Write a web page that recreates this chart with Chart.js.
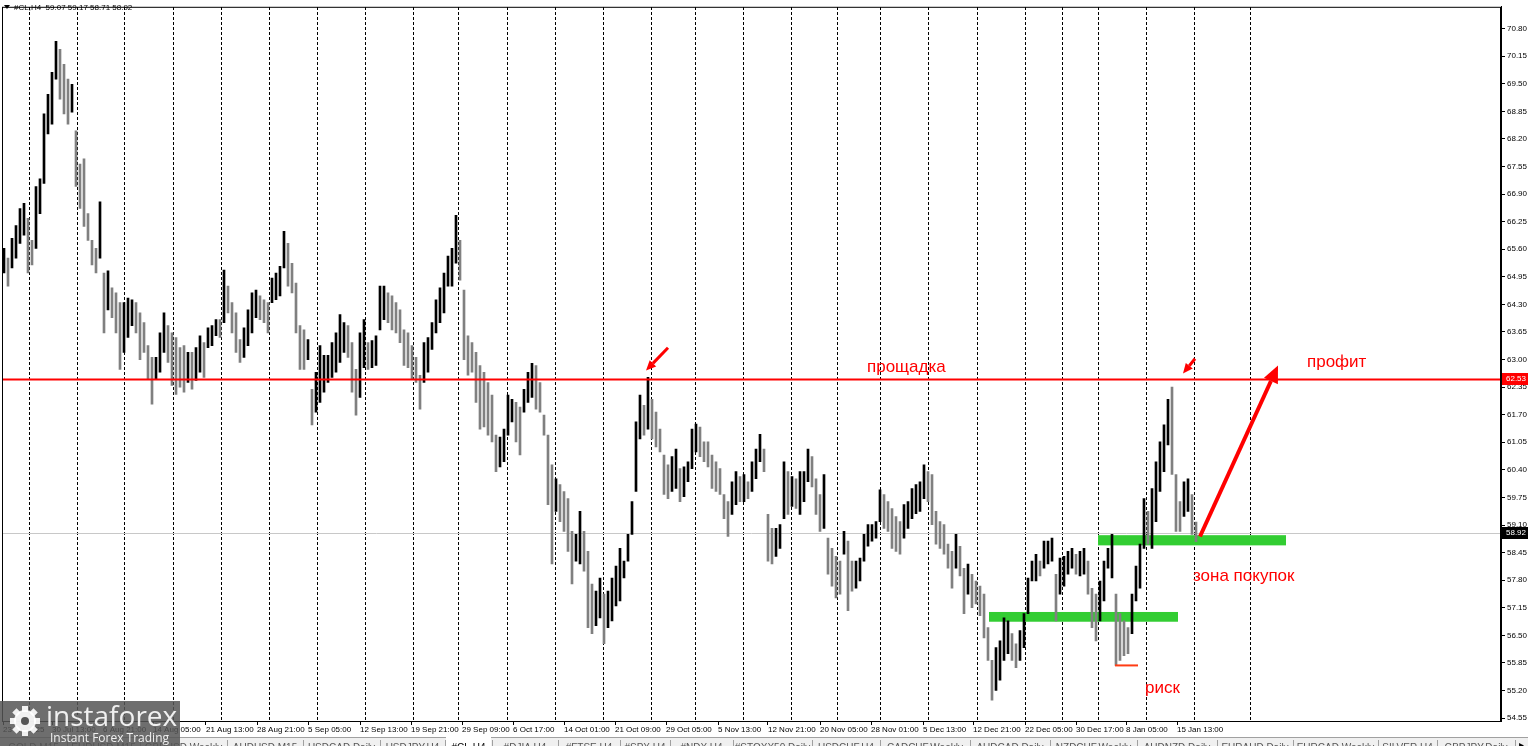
<!DOCTYPE html>
<html>
<head>
<meta charset="utf-8">
<script src="https://cdn.jsdelivr.net/npm/chart.js@4.4.1/dist/chart.umd.min.js"></script>
<style>
  html, body { margin: 0; padding: 0; background: #fff; overflow: hidden; }
  canvas { display: block; }
</style>
</head>
<body>
<canvas id="chart" width="1528" height="746"></canvas>
<script>
// Datos del grafico (#CL, H4) - cada barra = maximo / minimo
const symbolTitle = "#CL,H4  59.07 59.17 58.71 58.92";

const barHigh = [
  65.62,65.39,65.86,66.16,66.56,66.68,66.33,65.81,67.08,67.26,
  68.79,69.25,69.77,70.50,70.31,69.96,69.61,69.49,68.39,67.61,
  67.73,66.44,65.81,65.62,66.72,65.04,65.09,64.69,64.57,64.34,
  64.34,64.45,64.41,64.34,64.10,63.87,63.33,63.05,63.05,63.63,
  64.10,63.80,63.63,63.52,63.28,63.33,63.17,63.17,63.28,63.56,
  63.40,63.75,63.80,63.94,63.94,65.11,64.73,64.34,64.10,63.47,
  63.75,64.17,64.57,64.64,64.50,64.41,64.34,64.92,65.04,65.20,
  66.02,65.74,65.27,64.80,63.80,63.70,63.47,62.30,62.70,63.33,
  63.10,63.10,63.40,63.63,64.06,63.87,63.80,63.40,62.77,63.63,
  63.94,63.40,63.45,63.56,64.73,64.73,64.57,64.50,64.34,64.17,
  63.70,63.63,63.33,63.05,62.63,63.40,63.52,63.87,64.41,64.69,
  65.04,65.44,65.62,66.40,65.81,64.64,63.56,63.40,63.17,62.86,
  62.70,62.46,62.16,61.22,61.17,61.36,62.16,62.06,61.99,61.88,
  62.30,62.70,62.91,62.86,62.46,61.69,61.22,60.52,60.19,60.05,
  59.89,59.72,58.95,58.88,59.42,58.95,58.48,57.71,57.54,57.85,
  57.47,57.54,57.85,58.13,58.55,58.25,58.88,59.65,61.53,62.16,
  61.92,62.58,62.06,61.76,61.36,60.75,60.52,60.71,60.89,60.43,
  60.47,60.59,61.36,61.48,61.41,61.06,61.06,60.75,60.59,60.43,
  59.82,59.65,60.12,60.36,60.24,60.29,60.12,60.59,60.89,61.24,
  60.89,59.35,59.02,59.02,59.11,60.59,60.36,60.24,60.19,60.36,
  60.36,60.89,60.71,60.19,59.82,60.29,58.79,58.55,58.36,58.25,
  58.95,58.72,58.25,58.25,58.32,58.88,59.11,59.11,59.18,59.93,
  59.82,59.65,59.49,59.30,59.18,59.58,59.65,59.96,60.05,60.12,
  60.52,60.36,60.29,59.42,59.18,59.11,58.65,58.48,58.88,58.60,
  58.08,58.18,57.94,57.78,57.66,57.47,56.68,55.91,56.21,56.37,
  56.91,56.84,56.54,56.30,56.61,57.01,57.85,58.25,58.41,58.25,
  58.72,58.72,58.79,57.94,58.32,58.36,58.48,58.55,58.41,58.48,
  58.55,58.25,57.61,57.47,57.78,58.25,58.55,58.88,57.47,57.01,
  56.84,56.68,57.47,58.13,58.65,59.72,59.42,59.96,60.59,61.06,
  61.46,62.06,62.35,60.29,59.65,60.12,60.19,59.82,59.17
];

const barLow = [
  65.04,64.73,65.16,65.39,65.74,65.93,65.04,65.23,65.62,66.44,
  67.15,68.32,68.55,69.61,69.14,68.79,68.55,68.83,67.08,66.56,
  66.14,65.81,65.23,65.04,65.39,63.63,64.17,63.99,63.63,62.77,
  63.17,63.52,63.80,63.63,63.00,63.17,62.53,61.95,62.53,62.70,
  63.17,62.93,62.39,62.18,62.35,62.23,62.46,62.30,62.51,62.70,
  62.58,63.28,63.33,63.56,63.52,63.87,64.10,63.63,63.17,62.93,
  63.05,63.33,63.63,63.99,63.94,63.87,63.63,64.34,64.41,64.50,
  65.16,64.73,64.57,63.63,62.77,62.77,63.00,61.46,61.76,61.99,
  62.23,62.46,62.58,62.70,62.93,63.17,63.05,62.23,61.69,62.11,
  62.81,62.77,62.81,62.86,63.70,63.94,63.87,63.70,63.63,63.40,
  62.86,62.81,62.53,62.46,61.83,62.46,62.70,63.24,63.63,63.87,
  64.10,64.73,64.73,65.27,64.87,63.00,62.63,62.70,61.99,61.36,
  61.41,61.22,61.06,60.36,60.47,60.59,61.22,61.53,61.06,60.75,
  61.76,61.99,62.11,61.83,61.76,61.22,59.58,58.18,59.42,59.18,
  58.95,58.48,57.71,58.25,58.18,58.01,56.68,56.54,56.73,56.91,
  56.30,56.68,56.84,57.19,57.31,57.85,58.25,58.88,59.89,61.13,
  61.22,61.36,61.13,60.94,60.82,59.82,59.72,59.89,59.96,59.65,
  59.77,60.12,60.43,60.82,60.71,60.59,60.47,59.96,59.89,59.82,
  59.25,58.83,59.35,59.58,59.65,59.65,59.72,59.89,60.19,60.59,
  60.36,58.25,58.18,58.36,58.55,59.25,59.35,59.54,59.49,59.35,
  59.65,60.12,60.00,59.35,58.95,59.02,57.94,57.66,57.38,57.47,
  58.41,57.08,57.54,57.61,57.78,58.25,58.60,58.72,58.79,59.18,
  59.02,58.95,58.55,58.48,58.41,58.79,59.02,59.25,59.37,59.42,
  59.72,59.65,59.11,58.65,58.55,58.41,58.08,57.61,58.08,57.90,
  57.01,57.47,57.15,57.24,56.96,56.44,55.91,54.97,55.20,55.44,
  55.91,56.07,55.91,55.74,55.91,56.21,57.01,57.78,57.78,57.90,
  58.08,58.18,58.25,56.84,57.47,57.66,57.94,58.08,57.94,57.90,
  57.94,57.47,56.68,56.37,56.84,57.31,58.08,57.85,55.79,55.91,
  56.02,56.07,56.54,57.31,57.61,58.55,58.65,58.55,59.18,59.89,
  60.36,60.99,60.29,58.95,58.95,59.30,59.42,58.88,58.71
];

const priceTicks = [
  54.55, 55.20, 55.85, 56.50, 57.15, 57.80, 58.45, 59.10, 59.75, 60.40, 61.05, 61.70, 62.35,
  63.00, 63.65, 64.30, 64.95, 65.60, 66.25, 66.90, 67.55, 68.20, 68.85, 69.50, 70.15, 70.80
];

const dateLabels = [
  "23 Jul 2025", "30 Jul 13:00", "6 Aug 21:00", "14 Aug 05:00", "21 Aug 13:00", "28 Aug 21:00",
  "5 Sep 05:00", "12 Sep 13:00", "19 Sep 21:00", "29 Sep 09:00", "6 Oct 17:00", "14 Oct 01:00",
  "21 Oct 09:00", "29 Oct 05:00", "5 Nov 13:00", "12 Nov 21:00", "20 Nov 05:00", "28 Nov 01:00",
  "5 Dec 13:00", "12 Dec 21:00", "22 Dec 05:00", "30 Dec 17:00", "8 Jan 05:00", "15 Jan 13:00"
];
const dateLabelBars = [
  -0.25, 12, 24.75, 37.25, 50.5, 63.25, 76, 89, 101.75, 114.5, 127.25, 140,
  152.75, 165.5, 178.5, 191, 204, 216.75, 229.75, 242.25, 255.25, 268, 280.5, 293.25
];
const weekGridBars = [
  6.25, 18.25, 30.25, 42.25, 54.25, 66.25, 78.25, 90.25, 102.25, 113.75, 125.75, 137.75,
  149.75, 161.75, 172.75, 184.75, 196.75, 208.25, 219, 231, 243.25, 255.25, 264.5, 273.5,
  285.5, 297.5, 311.5
];

// Anotaciones del analista
const levelPrice = 62.53;
const lastPrice = 58.92;
const buyZones = [
  { from: 246.25, to: 293.5, top: 57.05, bottom: 56.82 },
  { from: 273.5, to: 320.5, top: 58.86, bottom: 58.62 }
];
const arrows = [
  { from: [166, 63.28], to: [160.5, 62.74], width: 3, head: 10 },
  { from: [297.75, 63.02], to: [294.75, 62.67], width: 3, head: 10 },
  { from: [299, 58.83], to: [318.5, 62.86], width: 4, head: 17 }
];
const riskLine = { from: 277.75, to: 283.5, price: 55.79 };
const notes = [
  { text: "прощадка", bar: 215.75, price: 62.81 },
  { text: "профит", bar: 325.75, price: 62.93 },
  { text: "зона покупок", bar: 297.25, price: 57.90 },
  { text: "риск", bar: 285.25, price: 55.25 }
];

const tabs = [
  ["GOLD,M15", 0, 67], ["EURUSD,M15", 67, 140], ["GBPUSD,Weekly", 140, 227], ["AUDUSD,M15", 227, 303],
  ["USDCAD,Daily", 303, 380], ["USDJPY,H4", 380, 445], ["#CL,H4", 445, 492], ["#DJIA,H4", 492, 558],
  ["#FTSE,H4", 558, 620], ["#SPX,H4", 620, 670], ["#NDX,H4", 670, 733], ["#STOXX50,Daily", 733, 812],
  ["USDCHF,H4", 812, 880], ["CADCHF,Weekly", 880, 970], ["AUDCAD,Daily", 970, 1050],
  ["NZDCHF,Weekly", 1050, 1137], ["AUDNZD,Daily", 1137, 1217], ["EURAUD,Daily", 1217, 1293],
  ["EURCAD,Weekly", 1293, 1378], ["SILVER,H4", 1378, 1437], ["GBPJPY,Daily", 1437, 1515]
];

const FONT = "'Liberation Sans', Arial, sans-serif";

function drawArrow(ctx, x1, y1, x2, y2, width, head) {
  const ang = Math.atan2(y2 - y1, x2 - x1);
  const bx = x2 - head * Math.cos(ang), by = y2 - head * Math.sin(ang);
  ctx.lineWidth = width;
  ctx.beginPath();
  ctx.moveTo(x1, y1);
  ctx.lineTo(bx, by);
  ctx.stroke();
  ctx.beginPath();
  ctx.moveTo(x2, y2);
  ctx.lineTo(bx + head * 0.45 * Math.sin(ang), by - head * 0.45 * Math.cos(ang));
  ctx.lineTo(bx - head * 0.45 * Math.sin(ang), by + head * 0.45 * Math.cos(ang));
  ctx.closePath();
  ctx.fill();
}

function drawGear(ctx, cx, cy, r) {
  ctx.beginPath();
  for (let k = 0; k < 8; k++) {
    ctx.save();
    ctx.translate(cx, cy);
    ctx.rotate(k * Math.PI / 4);
    ctx.rect(-3, -r - 4, 6, 6);
    ctx.restore();
  }
  ctx.fill();
  ctx.beginPath();
  ctx.arc(cx, cy, r, 0, Math.PI * 2);
  ctx.fill();
}

const annotate = {
  id: "annotate",
  beforeDatasetsDraw(chart) {
    const { ctx, chartArea: a, scales: { x, y } } = chart;
    ctx.save();
    const yl = Math.round(y.getPixelForValue(lastPrice)) + 0.5;
    ctx.strokeStyle = "#c8c8c8";
    ctx.lineWidth = 1;
    ctx.beginPath();
    ctx.moveTo(a.left, yl);
    ctx.lineTo(a.right, yl);
    ctx.stroke();
    ctx.fillStyle = "#32cd32";
    buyZones.forEach(z => {
      const x0 = x.getPixelForValue(z.from), x1 = x.getPixelForValue(z.to);
      const y0 = y.getPixelForValue(z.top), y1 = y.getPixelForValue(z.bottom);
      ctx.fillRect(x0, y0, x1 - x0, y1 - y0);
    });
    ctx.restore();
  },
  afterDatasetsDraw(chart) {
    const { ctx, chartArea: a, scales: { x, y } } = chart;
    ctx.save();
    const yr = y.getPixelForValue(levelPrice);
    ctx.strokeStyle = "#ff0000";
    ctx.lineWidth = 2;
    ctx.beginPath();
    ctx.moveTo(a.left, yr);
    ctx.lineTo(a.right, yr);
    ctx.stroke();

    ctx.fillStyle = "#ff0000";
    arrows.forEach(ar => {
      drawArrow(ctx,
        x.getPixelForValue(ar.from[0]), y.getPixelForValue(ar.from[1]),
        x.getPixelForValue(ar.to[0]), y.getPixelForValue(ar.to[1]),
        ar.width, ar.head);
    });

    ctx.strokeStyle = "#ff3c14";
    ctx.lineWidth = 2;
    const ry = y.getPixelForValue(riskLine.price);
    ctx.beginPath();
    ctx.moveTo(x.getPixelForValue(riskLine.from), ry);
    ctx.lineTo(x.getPixelForValue(riskLine.to), ry);
    ctx.stroke();

    ctx.font = "17px " + FONT;
    ctx.textBaseline = "middle";
    ctx.textAlign = "left";
    ctx.fillStyle = "#ff0000";
    notes.forEach(n => ctx.fillText(n.text, x.getPixelForValue(n.bar), y.getPixelForValue(n.price)));
    ctx.restore();
  },
  afterDraw(chart) {
    const { ctx, chartArea: a, scales: { y } } = chart;
    ctx.save();
    // marco
    ctx.strokeStyle = "#000";
    ctx.lineWidth = 1;
    ctx.strokeRect(a.left + 0.5, a.top + 0.5, a.right - a.left - 1, a.bottom - a.top);

    // etiquetas de precio en el eje
    ctx.font = "8px " + FONT;
    ctx.textBaseline = "middle";
    ctx.textAlign = "left";
    const boxes = [[levelPrice, "#ff0000"], [lastPrice, "#000000"]];
    boxes.forEach(([p, c]) => {
      const py = Math.round(y.getPixelForValue(p));
      ctx.fillStyle = c;
      ctx.fillRect(a.right + 1, py - 6, 26, 12);
      ctx.fillStyle = "#fff";
      ctx.fillText(p.toFixed(2), a.right + 5, py);
    });

    // titulo
    ctx.fillStyle = "#000";
    ctx.beginPath();
    ctx.moveTo(4, 5); ctx.lineTo(10, 5); ctx.lineTo(7, 9); ctx.closePath();
    ctx.fill();
    ctx.fillText(symbolTitle, 14, 8);

    // pestanas
    ctx.fillStyle = "#f0f0f0";
    ctx.fillRect(0, 737, 1528, 9);
    ctx.fillStyle = "#a0a0a0";
    ctx.fillRect(0, 737, 1528, 1);
    ctx.font = "10px " + FONT;
    ctx.textAlign = "center";
    tabs.forEach(([t, x0, x1]) => {
      if (t === "#CL,H4") {
        ctx.fillStyle = "#fff";
        ctx.fillRect(x0 + 1, 737, x1 - x0 - 2, 9);
      }
      ctx.fillStyle = "#a0a0a0";
      ctx.fillRect(x1, 740, 1, 6);
      ctx.fillStyle = t === "#CL,H4" ? "#000" : "#555";
      ctx.fillText(t, (x0 + x1) / 2, 748);
    });
    ctx.fillStyle = "#000";
    ctx.fillText("\u25B8", 1521, 745);

    // logo
    ctx.fillStyle = "rgba(85,85,85,0.85)";
    ctx.fillRect(0, 701, 180, 45);
    ctx.fillStyle = "rgba(255,255,255,0.9)";
    drawGear(ctx, 25, 721, 11);
    ctx.fillStyle = "rgba(85,85,85,1)";
    ctx.beginPath();
    ctx.arc(25, 721, 4, 0, Math.PI * 2);
    ctx.fill();
    ctx.fillStyle = "rgba(255,255,255,0.9)";
    ctx.textAlign = "left";
    ctx.font = "28px 'Open Sans', " + FONT;
    ctx.fillText("instaforex", 46, 718);
    ctx.font = "12px 'Open Sans', " + FONT;
    ctx.fillText("Instant Forex Trading", 50, 739);
    ctx.restore();
  }
};

const barColors = barHigh.map((h, i) =>
  i > 0 && (h + barLow[i]) < (barHigh[i - 1] + barLow[i - 1]) ? "#808080" : "#000000");

new Chart(document.getElementById("chart"), {
  type: "bar",
  data: {
    datasets: [{
      data: barHigh.map((h, i) => ({ x: i, y: [barLow[i], h] })),
      backgroundColor: barColors,
      borderWidth: 0,
      barThickness: 2,
      grouped: false
    }]
  },
  options: {
    responsive: false,
    animation: false,
    devicePixelRatio: 1,
    layout: { padding: { left: 2, top: 2, right: 0, bottom: 0 } },
    plugins: { legend: { display: false }, tooltip: { enabled: false } },
    scales: {
      x: {
        type: "linear",
        position: "bottom",
        offset: false,
        min: -0.5,
        max: 374.25,
        afterBuildTicks: s => { s.ticks = dateLabelBars.map(v => ({ value: v })); },
        afterFit: s => { s.height = 25; },
        ticks: {
          callback: (v, i) => dateLabels[i],
          align: "start",
          autoSkip: false,
          maxRotation: 0,
          padding: 0,
          color: "#000",
          font: { size: 8, family: FONT }
        },
        grid: { offset: false, drawOnChartArea: false, drawTicks: true, tickLength: 4, color: "#000" },
        border: { display: true, color: "#000" }
      },
      xg: {
        type: "linear",
        position: "top",
        offset: false,
        min: -0.5,
        max: 374.25,
        afterBuildTicks: s => { s.ticks = weekGridBars.map(v => ({ value: v })); },
        afterFit: s => { s.height = 0; },
        ticks: { display: false },
        grid: { offset: false, drawOnChartArea: true, drawTicks: false, color: "#000", lineWidth: 1 },
        border: { display: false, dash: [3, 2] }
      },
      y: {
        type: "linear",
        position: "right",
        min: 54.48,
        max: 71.315,
        afterBuildTicks: s => { s.ticks = priceTicks.map(v => ({ value: v })); },
        afterFit: s => { s.width = 27; },
        ticks: {
          callback: v => v.toFixed(2),
          padding: 2,
          color: "#000",
          font: { size: 8, family: FONT }
        },
        grid: { drawOnChartArea: false, drawTicks: true, tickLength: 4, color: "#000" },
        border: { display: true, color: "#000" }
      }
    }
  },
  plugins: [annotate]
});
</script>
</body>
</html>
